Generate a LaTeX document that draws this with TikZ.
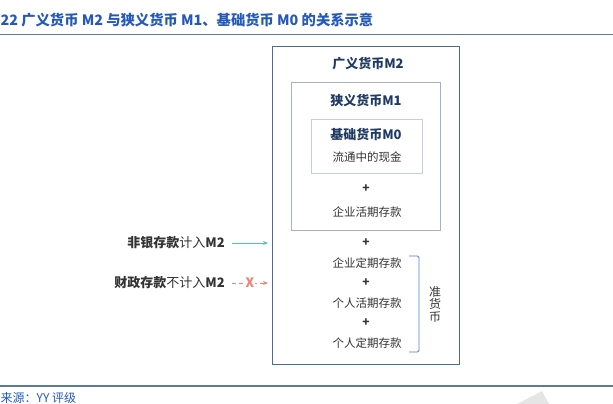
\documentclass[tikz,border=0pt]{standalone}
\usepackage{fontspec}
\usepackage{tikz}
\usepackage{xcolor}
\usetikzlibrary{positioning, arrows.meta}
\newfontfamily\cjk{Noto Sans CJK SC}
\definecolor{titleblue}{HTML}{2459B8}
\definecolor{rulegray}{HTML}{5E7A9A}
\definecolor{navy}{HTML}{1F3B63}
\definecolor{boxouter}{HTML}{4C6B9C}
\definecolor{boxmid}{HTML}{A3B1CC}
\definecolor{boxinner}{HTML}{C6CDDB}
\definecolor{tealarrow}{HTML}{4CC6B5}
\definecolor{redarrow}{HTML}{F2806F}
\definecolor{bracketblue}{HTML}{4A80D9}
\definecolor{bodytext}{HTML}{333333}
\tikzset{
  head/.style={font=\cjk\fontsize{13}{14}\selectfont\bfseries, text=navy, inner sep=0pt},
  item/.style={font=\cjk\fontsize{11.5}{13}\selectfont, text=bodytext, inner sep=0pt},
  plus/.style={font=\cjk\fontsize{12}{13}\selectfont\bfseries, text=bodytext, inner sep=0pt},
  side/.style={font=\cjk\fontsize{13}{14}\selectfont, text=bodytext, inner sep=0pt, anchor=east},
}

\begin{document}
\begin{tikzpicture}[x=1pt, y=-1pt]
  \useasboundingbox (0,0) rectangle (613,404);
  % title and rules
  \node[anchor=west, inner sep=0pt, text=titleblue, font=\cjk\fontsize{14.3}{16}\selectfont\bfseries] (title) at (0.5,20) {22 广义货币 M2 与狭义货币 M1、基础货币 M0 的关系示意};
  \draw[rulegray, line width=1.3pt] (0,34.5) -- (613,34.5);
  \draw[rulegray, line width=1.6pt] (0,386) -- (613,386);
  \node[anchor=west, inner sep=0pt, text=titleblue, font=\cjk\fontsize{12}{14}\selectfont] (source) at (0.5,397.5) {来源：YY 评级};
  \fill[black!10] (517,404) -- (542,391) -- (549,404) -- cycle;

  % nested boxes
  \draw[boxouter, line width=0.9pt] (272,46) rectangle (459,364);
  \draw[boxmid, line width=0.9pt] (291,82) rectangle (440,230);
  \draw[boxinner, line width=0.9pt] (311,119) rectangle (422,173);

  \node[head] (m2) at (368,64) {广义货币M2};
  \node[head] (m1) at (366,101) {狭义货币M1};
  \node[head] (m0) at (366,135) {基础货币M0};
  \node[item] (cash) at (367,157) {流通中的现金};
  \node[plus] (p1) at (366,189) {+};
  \node[item] (corpdemand) at (367,212) {企业活期存款};
  \node[plus] (p2) at (366,243) {+};
  \node[item] (corptime) at (367,263) {企业定期存款};
  \node[plus] (p3) at (366,283) {+};
  \node[item] (persdemand) at (367,303) {个人活期存款};
  \node[plus] (p4) at (366,323) {+};
  \node[item] (perstime) at (367,343) {个人定期存款};

  % quasi-money bracket
  \coordinate (brtop) at (409,256);
  \coordinate (brbot) at (409,352);
  \draw[bracketblue, line width=0.9pt, rounded corners=1.5pt] (brtop) -- (419,256) -- (419,352) -- (brbot);
  \node[item, align=center, font=\cjk\fontsize{12}{12.5}\selectfont] (quasi) at (435,304) {准\\货\\币};

  % deposits from outside
  \node[side] (nonbank) at (225,243) {\textbf{非银存款}计入\textbf{M2}};
  \node[side] (fiscal) at (225,283) {\textbf{财政存款}不计入\textbf{M2}};
  \coordinate (inA) at (268,243);
  \coordinate (inB) at (268,283);
  \draw[tealarrow, line width=0.9pt, -{Stealth[length=5pt, width=4pt]}] ([xshift=7pt]nonbank.east) -- (inA);
  \draw[redarrow, line width=0.9pt, dashed, dash pattern=on 4pt off 3pt, -{Stealth[length=5pt, width=4pt]}] ([xshift=7pt]fiscal.east) -- (inB);
  \node[inner sep=0.5pt, fill=white, text=redarrow, font=\cjk\fontsize{13}{14}\selectfont\bfseries] (cross) at (250,283) {X};
\end{tikzpicture}
\end{document}
